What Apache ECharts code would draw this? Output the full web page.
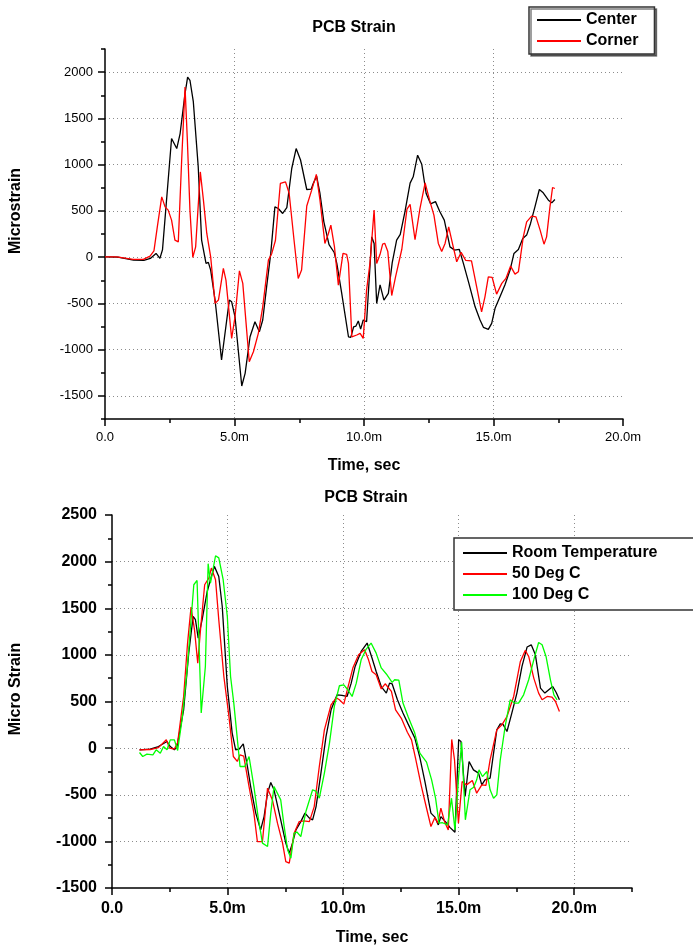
<!DOCTYPE html>
<html>
<head>
<meta charset="utf-8">
<title>PCB Strain</title>
<script src="https://cdn.jsdelivr.net/npm/echarts@6/dist/echarts.min.js"></script>
<style>
  html, body { margin: 0; padding: 0; background: #fff; }
  #main { width: 693px; height: 949px; }
</style>
</head>
<body>
<div id="main"></div>
<script>
// 上图数据 [时间(ms), 微应变]
var centerData = [[0.0,3],[0.5,0],[1.1,-32],[1.5,-36],[1.75,-14],[1.97,40],[2.12,-14],[2.22,80],[2.57,1282],[2.77,1174],[2.9,1336],[3.09,1768],[3.19,1947],[3.28,1912],[3.41,1680],[3.6,975],[3.73,184],[3.9,-68],[3.99,-57],[4.08,-140],[4.25,-464],[4.5,-1112],[4.57,-1112],[4.8,-464],[4.89,-483],[5.02,-645],[5.28,-1393],[5.41,-1256],[5.6,-861],[5.79,-699],[5.96,-807],[6.09,-680],[6.24,-321],[6.4,40],[6.56,543],[6.69,526],[6.86,472],[7.02,535],[7.21,958],[7.38,1174],[7.55,1050],[7.79,731],[7.96,735],[8.04,796],[8.17,875],[8.3,688],[8.45,382],[8.65,135],[8.85,50],[8.95,-68],[9.14,-392],[9.4,-861],[9.49,-867],[9.6,-753],[9.69,-745],[9.78,-690],[9.87,-778],[9.97,-680],[10.1,-699],[10.3,219],[10.39,148],[10.49,-500],[10.62,-300],[10.77,-464],[10.94,-392],[11.09,-60],[11.26,184],[11.4,245],[11.58,490],[11.78,800],[11.9,868],[12.07,1102],[12.23,1003],[12.4,688],[12.57,576],[12.76,600],[12.93,490],[13.1,400],[13.32,111],[13.49,76],[13.68,83],[13.84,-70],[14.05,-284],[14.29,-537],[14.48,-680],[14.61,-759],[14.8,-781],[14.93,-716],[15.06,-554],[15.25,-429],[15.44,-302],[15.64,-140],[15.79,40],[15.96,83],[16.13,202],[16.28,238],[16.43,364],[16.6,543],[16.77,731],[16.92,695],[17.12,616],[17.25,587],[17.37,623]];
var cornerData = [[0.0,3],[0.45,3],[1.09,-25],[1.48,-25],[1.74,11],[1.89,68],[2.02,327],[2.19,651],[2.32,543],[2.44,508],[2.57,400],[2.7,184],[2.83,165],[2.96,1048],[3.09,1839],[3.18,1264],[3.28,508],[3.39,-3],[3.5,111],[3.68,921],[3.8,616],[3.93,256],[4.08,3],[4.25,-500],[4.38,-464],[4.57,-122],[4.67,-248],[4.89,-878],[5.02,-645],[5.19,-148],[5.32,-284],[5.57,-1131],[5.73,-1023],[5.92,-824],[6.09,-537],[6.31,-32],[6.44,40],[6.58,180],[6.77,796],[6.97,813],[7.11,690],[7.3,180],[7.46,-230],[7.59,-140],[7.79,552],[7.98,724],[8.16,895],[8.3,616],[8.49,148],[8.62,250],[8.72,346],[8.86,110],[9.01,-302],[9.19,40],[9.33,30],[9.4,-68],[9.53,-861],[9.72,-842],[9.85,-824],[9.97,-878],[10.1,-356],[10.23,-68],[10.39,508],[10.49,-68],[10.62,30],[10.72,140],[10.8,150],[10.92,60],[11.07,-415],[11.22,-210],[11.46,85],[11.66,520],[11.78,570],[11.97,188],[12.16,525],[12.36,803],[12.55,598],[12.7,454],[12.87,148],[13.0,60],[13.13,148],[13.27,327],[13.43,130],[13.58,-50],[13.75,52],[13.93,-36],[14.15,-40],[14.35,-321],[14.54,-591],[14.67,-429],[14.8,-213],[14.95,-220],[15.12,-400],[15.32,-284],[15.48,-230],[15.66,-97],[15.83,-184],[15.96,-159],[16.15,219],[16.28,381],[16.47,443],[16.64,435],[16.8,292],[16.95,140],[17.05,219],[17.18,543],[17.28,753],[17.37,742]];

// 下图数据 [时间(ms), 微应变]
var roomData = [[1.19,-18],[1.65,-11],[2.01,17],[2.38,71],[2.52,17],[2.7,-18],[2.81,17],[3.1,411],[3.32,1019],[3.51,1412],[3.61,1377],[3.73,1180],[3.9,1377],[4.12,1680],[4.26,1806],[4.43,1949],[4.62,1841],[4.77,1519],[4.99,661],[5.2,161],[5.35,-18],[5.5,-10],[5.68,46],[5.86,-197],[6.0,-412],[6.22,-697],[6.43,-877],[6.58,-734],[6.73,-483],[6.87,-369],[7.01,-447],[7.3,-769],[7.52,-1019],[7.67,-1127],[7.81,-1019],[7.96,-877],[8.17,-788],[8.35,-697],[8.54,-751],[8.68,-769],[8.83,-627],[9.04,-268],[9.26,124],[9.48,411],[9.74,572],[9.95,565],[10.17,554],[10.35,697],[10.52,876],[10.78,1037],[11.04,1127],[11.12,1110],[11.25,966],[11.43,822],[11.65,660],[11.87,590],[12.01,697],[12.12,690],[12.35,518],[12.59,376],[12.81,260],[13.1,110],[13.32,-100],[13.54,-360],[13.8,-697],[13.97,-740],[14.12,-823],[14.23,-734],[14.48,-805],[14.62,-850],[14.84,-903],[15.0,89],[15.1,71],[15.28,-519],[15.45,-143],[15.64,-233],[15.86,-268],[16.0,-394],[16.14,-340],[16.36,-322],[16.65,196],[16.8,261],[16.92,255],[17.09,178],[17.3,376],[17.52,590],[17.74,876],[17.96,1084],[18.14,1108],[18.32,1001],[18.54,644],[18.73,590],[18.9,626],[19.07,661],[19.22,597],[19.36,518]];
var deg50Data = [[1.19,-18],[1.65,-15],[2.01,5],[2.35,89],[2.49,0],[2.7,-10],[2.84,60],[3.1,554],[3.27,1127],[3.42,1513],[3.57,1269],[3.71,912],[3.83,1269],[4.01,1752],[4.19,1824],[4.3,1931],[4.48,1806],[4.62,1377],[4.84,768],[5.06,339],[5.25,-90],[5.42,-143],[5.54,-72],[5.7,-85],[5.93,-412],[6.14,-697],[6.29,-1002],[6.51,-1002],[6.73,-429],[6.94,-555],[7.16,-805],[7.38,-1019],[7.52,-1217],[7.67,-1234],[7.88,-912],[8.1,-788],[8.3,-780],[8.54,-788],[8.75,-627],[8.97,-197],[9.19,196],[9.48,465],[9.7,540],[9.84,518],[10.03,472],[10.2,644],[10.42,858],[10.67,1001],[10.93,1055],[11.1,947],[11.25,822],[11.43,786],[11.65,635],[11.82,690],[12.09,608],[12.27,411],[12.52,320],[12.78,170],[12.96,89],[13.13,-105],[13.39,-412],[13.61,-645],[13.8,-841],[13.97,-743],[14.1,-805],[14.23,-644],[14.4,-796],[14.55,-877],[14.7,93],[14.82,-125],[14.99,-805],[15.15,-358],[15.34,-394],[15.59,-347],[15.78,-483],[16.0,-394],[16.18,-400],[16.36,-125],[16.65,196],[16.87,250],[17.09,339],[17.38,554],[17.67,929],[17.88,1048],[18.03,983],[18.25,751],[18.46,590],[18.61,518],[18.83,554],[19.04,547],[19.19,500],[19.36,393]];
var deg100Data = [[1.19,-47],[1.33,-90],[1.51,-64],[1.77,-72],[1.91,-18],[2.09,-54],[2.23,17],[2.38,-18],[2.52,89],[2.7,89],[2.84,-25],[3.03,304],[3.25,840],[3.54,1752],[3.68,1798],[3.86,376],[4.04,876],[4.16,1978],[4.26,1770],[4.48,2063],[4.62,2040],[4.81,1806],[4.99,1412],[5.13,768],[5.27,483],[5.54,-197],[5.75,-197],[5.93,-90],[6.14,-412],[6.32,-734],[6.51,-1019],[6.73,-1055],[6.87,-697],[7.01,-412],[7.3,-555],[7.45,-841],[7.6,-1091],[7.74,-1180],[7.88,-912],[8.0,-900],[8.17,-948],[8.39,-680],[8.68,-447],[8.82,-460],[8.97,-537],[9.19,-268],[9.41,54],[9.62,447],[9.84,669],[10.03,679],[10.2,626],[10.39,554],[10.57,697],[10.78,947],[11.0,1062],[11.21,1127],[11.43,1019],[11.65,860],[11.87,795],[12.12,705],[12.23,733],[12.41,730],[12.59,483],[12.81,339],[13.1,161],[13.32,-54],[13.61,-150],[13.83,-340],[14.0,-537],[14.15,-805],[14.3,-800],[14.52,-823],[14.69,-537],[14.84,-877],[15.0,-300],[15.13,62],[15.29,-769],[15.49,-447],[15.65,-420],[15.78,-340],[15.88,-233],[16.03,-305],[16.22,-251],[16.36,-447],[16.51,-537],[16.65,-501],[16.8,-125],[17.01,232],[17.23,518],[17.42,483],[17.59,483],[17.81,572],[18.03,733],[18.25,947],[18.46,1133],[18.61,1108],[18.78,983],[18.97,733],[19.12,572],[19.26,518]];

// 图例名称
var topNames = ['Center', 'Corner'];
var bottomNames = ['Room Temperature', '50 Deg C', '100 Deg C'];
// 坐标轴范围 [min, max, 主刻度间隔, 次刻度间隔]
var topXRange = [0, 20, 5, 2.5];
var topYRange = [-1750, 2250, 500, 250];
var bottomXRange = [0, 22.5, 5, 2.5];
var bottomYRange = [-1500, 2500, 500, 250];
// 刻度标签
var topYTicks = [-1500, -1000, -500, 0, 500, 1000, 1500, 2000];
var xTickLabels = ['0.0', '5.0m', '10.0m', '15.0m', '20.0m'];

var FONT = 'Arial, "Liberation Sans", sans-serif';

function fmtTime(v) {
    var i = Math.round(v / 5);
    if (Math.abs(v - i * 5) < 1e-6 && i < xTickLabels.length) return xTickLabels[i];
    return '';
}

function fmtTopY(v) {
    return topYTicks.indexOf(v) >= 0 ? String(v) : '';
}

function fmtPlain(v) {
    return String(v);
}

var gridLine = { show: true, showMinLine: false, showMaxLine: false, lineStyle: { color: '#8c8c8c', width: 1, type: [1, 3] } };
var axisLine = { show: true, onZero: false, lineStyle: { color: '#000', width: 1.5 } };

// 次刻度轴（只画短刻度）
function minorAxis(grid, range, pos) {
    return {
        gridIndex: grid, type: 'value', position: pos,
        min: range[0], max: range[1], interval: range[3],
        axisLine: { show: false, onZero: false },
        axisTick: { show: true, length: 4, lineStyle: { color: '#000', width: 1.5 } },
        axisLabel: { show: false },
        splitLine: { show: false }
    };
}

var labelTop = { color: '#000', fontSize: 13, fontFamily: FONT };
var labelBottom = { color: '#000', fontSize: 16, fontWeight: 'bold', fontFamily: FONT };
var nameStyle = { color: '#000', fontSize: 16, fontWeight: 'bold', fontFamily: FONT };

var myChart = echarts.init(document.getElementById('main'));

var option = {
    backgroundColor: '#fff',
    animation: false,
    title: [
        { text: 'PCB Strain', left: 354, top: 20, textAlign: 'center', padding: 0,
          textStyle: { fontSize: 16, fontWeight: 'bold', color: '#000', fontFamily: FONT } },
        { text: 'PCB Strain', left: 366, top: 490, textAlign: 'center', padding: 0,
          textStyle: { fontSize: 16, fontWeight: 'bold', color: '#000', fontFamily: FONT } }
    ],
    legend: [
        {
            data: topNames, orient: 'vertical', left: 529, top: 7,
            padding: [5, 16, 5, 8], itemWidth: 44, itemHeight: 2, itemGap: 5, icon: 'rect',
            textStyle: { fontSize: 16, fontWeight: 'bold', color: '#000', fontFamily: FONT },
            backgroundColor: '#fff', borderColor: '#333', borderWidth: 1.5,
            shadowColor: 'rgba(0,0,0,0.5)', shadowOffsetX: 2, shadowOffsetY: 2, shadowBlur: 0
        },
        {
            data: bottomNames, orient: 'vertical', left: 454, top: 538,
            padding: [7, 40, 7, 9], itemWidth: 44, itemHeight: 2, itemGap: 5, icon: 'rect',
            textStyle: { fontSize: 16, fontWeight: 'bold', color: '#000', fontFamily: FONT },
            backgroundColor: '#fff', borderColor: '#333', borderWidth: 1.5
        }
    ],
    grid: [
        { left: 105, top: 49, width: 518, height: 370, outerBoundsMode: 'none' },
        { left: 112, top: 515, width: 520, height: 373, outerBoundsMode: 'none' }
    ],
    xAxis: [
        {
            gridIndex: 0, type: 'value', position: 'bottom',
            min: topXRange[0], max: topXRange[1], interval: topXRange[2],
            axisLine: axisLine,
            axisTick: { show: true, length: 7, lineStyle: { color: '#000', width: 1.5 } },
            axisLabel: Object.assign({ margin: 12, formatter: fmtTime, showMaxLabel: true }, labelTop),
            splitLine: gridLine,
            name: 'Time, sec', nameLocation: 'middle', nameGap: 39, nameTextStyle: nameStyle
        },
        minorAxis(0, topXRange, 'bottom'),
        {
            gridIndex: 1, type: 'value', position: 'bottom',
            min: bottomXRange[0], max: bottomXRange[1], interval: bottomXRange[2],
            axisLine: axisLine,
            axisTick: { show: true, length: 7, lineStyle: { color: '#000', width: 1.5 } },
            axisLabel: Object.assign({ margin: 13, formatter: fmtTime, showMaxLabel: false }, labelBottom),
            splitLine: gridLine,
            name: 'Time, sec', nameLocation: 'middle', nameGap: 42, nameTextStyle: nameStyle
        },
        minorAxis(1, bottomXRange, 'bottom')
    ],
    yAxis: [
        {
            gridIndex: 0, type: 'value', position: 'left',
            min: topYRange[0], max: topYRange[1], splitNumber: 8,
            axisLine: axisLine,
            axisTick: { show: true, length: 7, lineStyle: { color: '#000', width: 1.5 } },
            axisLabel: Object.assign({ margin: 12, formatter: fmtTopY, showMinLabel: false, showMaxLabel: false }, labelTop),
            splitLine: gridLine,
            name: 'Microstrain', nameLocation: 'middle', nameGap: 81,
            nameTextStyle: Object.assign({ padding: [0, 0, 0, 46] }, nameStyle)
        },
        minorAxis(0, topYRange, 'left'),
        {
            gridIndex: 1, type: 'value', position: 'left',
            min: bottomYRange[0], max: bottomYRange[1], interval: bottomYRange[2],
            axisLine: axisLine,
            axisTick: { show: true, length: 7, lineStyle: { color: '#000', width: 1.5 } },
            axisLabel: Object.assign({ margin: 15, formatter: fmtPlain }, labelBottom),
            splitLine: gridLine,
            name: 'Micro Strain', nameLocation: 'middle', nameGap: 88,
            nameTextStyle: Object.assign({ padding: [0, 0, 0, 25] }, nameStyle)
        },
        minorAxis(1, bottomYRange, 'left')
    ],
    series: [
        { name: 'Center', type: 'line', xAxisIndex: 0, yAxisIndex: 0, data: centerData,
          symbol: 'none', color: '#000', lineStyle: { color: '#000', width: 1.3 } },
        { name: 'Corner', type: 'line', xAxisIndex: 0, yAxisIndex: 0, data: cornerData,
          symbol: 'none', color: '#ff0000', lineStyle: { color: '#ff0000', width: 1.3 } },
        { name: 'Room Temperature', type: 'line', xAxisIndex: 2, yAxisIndex: 2, data: roomData,
          symbol: 'none', color: '#000', lineStyle: { color: '#000', width: 1.3 } },
        { name: '50 Deg C', type: 'line', xAxisIndex: 2, yAxisIndex: 2, data: deg50Data,
          symbol: 'none', color: '#ff0000', lineStyle: { color: '#ff0000', width: 1.3 } },
        { name: '100 Deg C', type: 'line', xAxisIndex: 2, yAxisIndex: 2, data: deg100Data,
          symbol: 'none', color: '#00ff00', lineStyle: { color: '#00ff00', width: 1.3 } }
    ]
};

myChart.setOption(option);
</script>
</body>
</html>
